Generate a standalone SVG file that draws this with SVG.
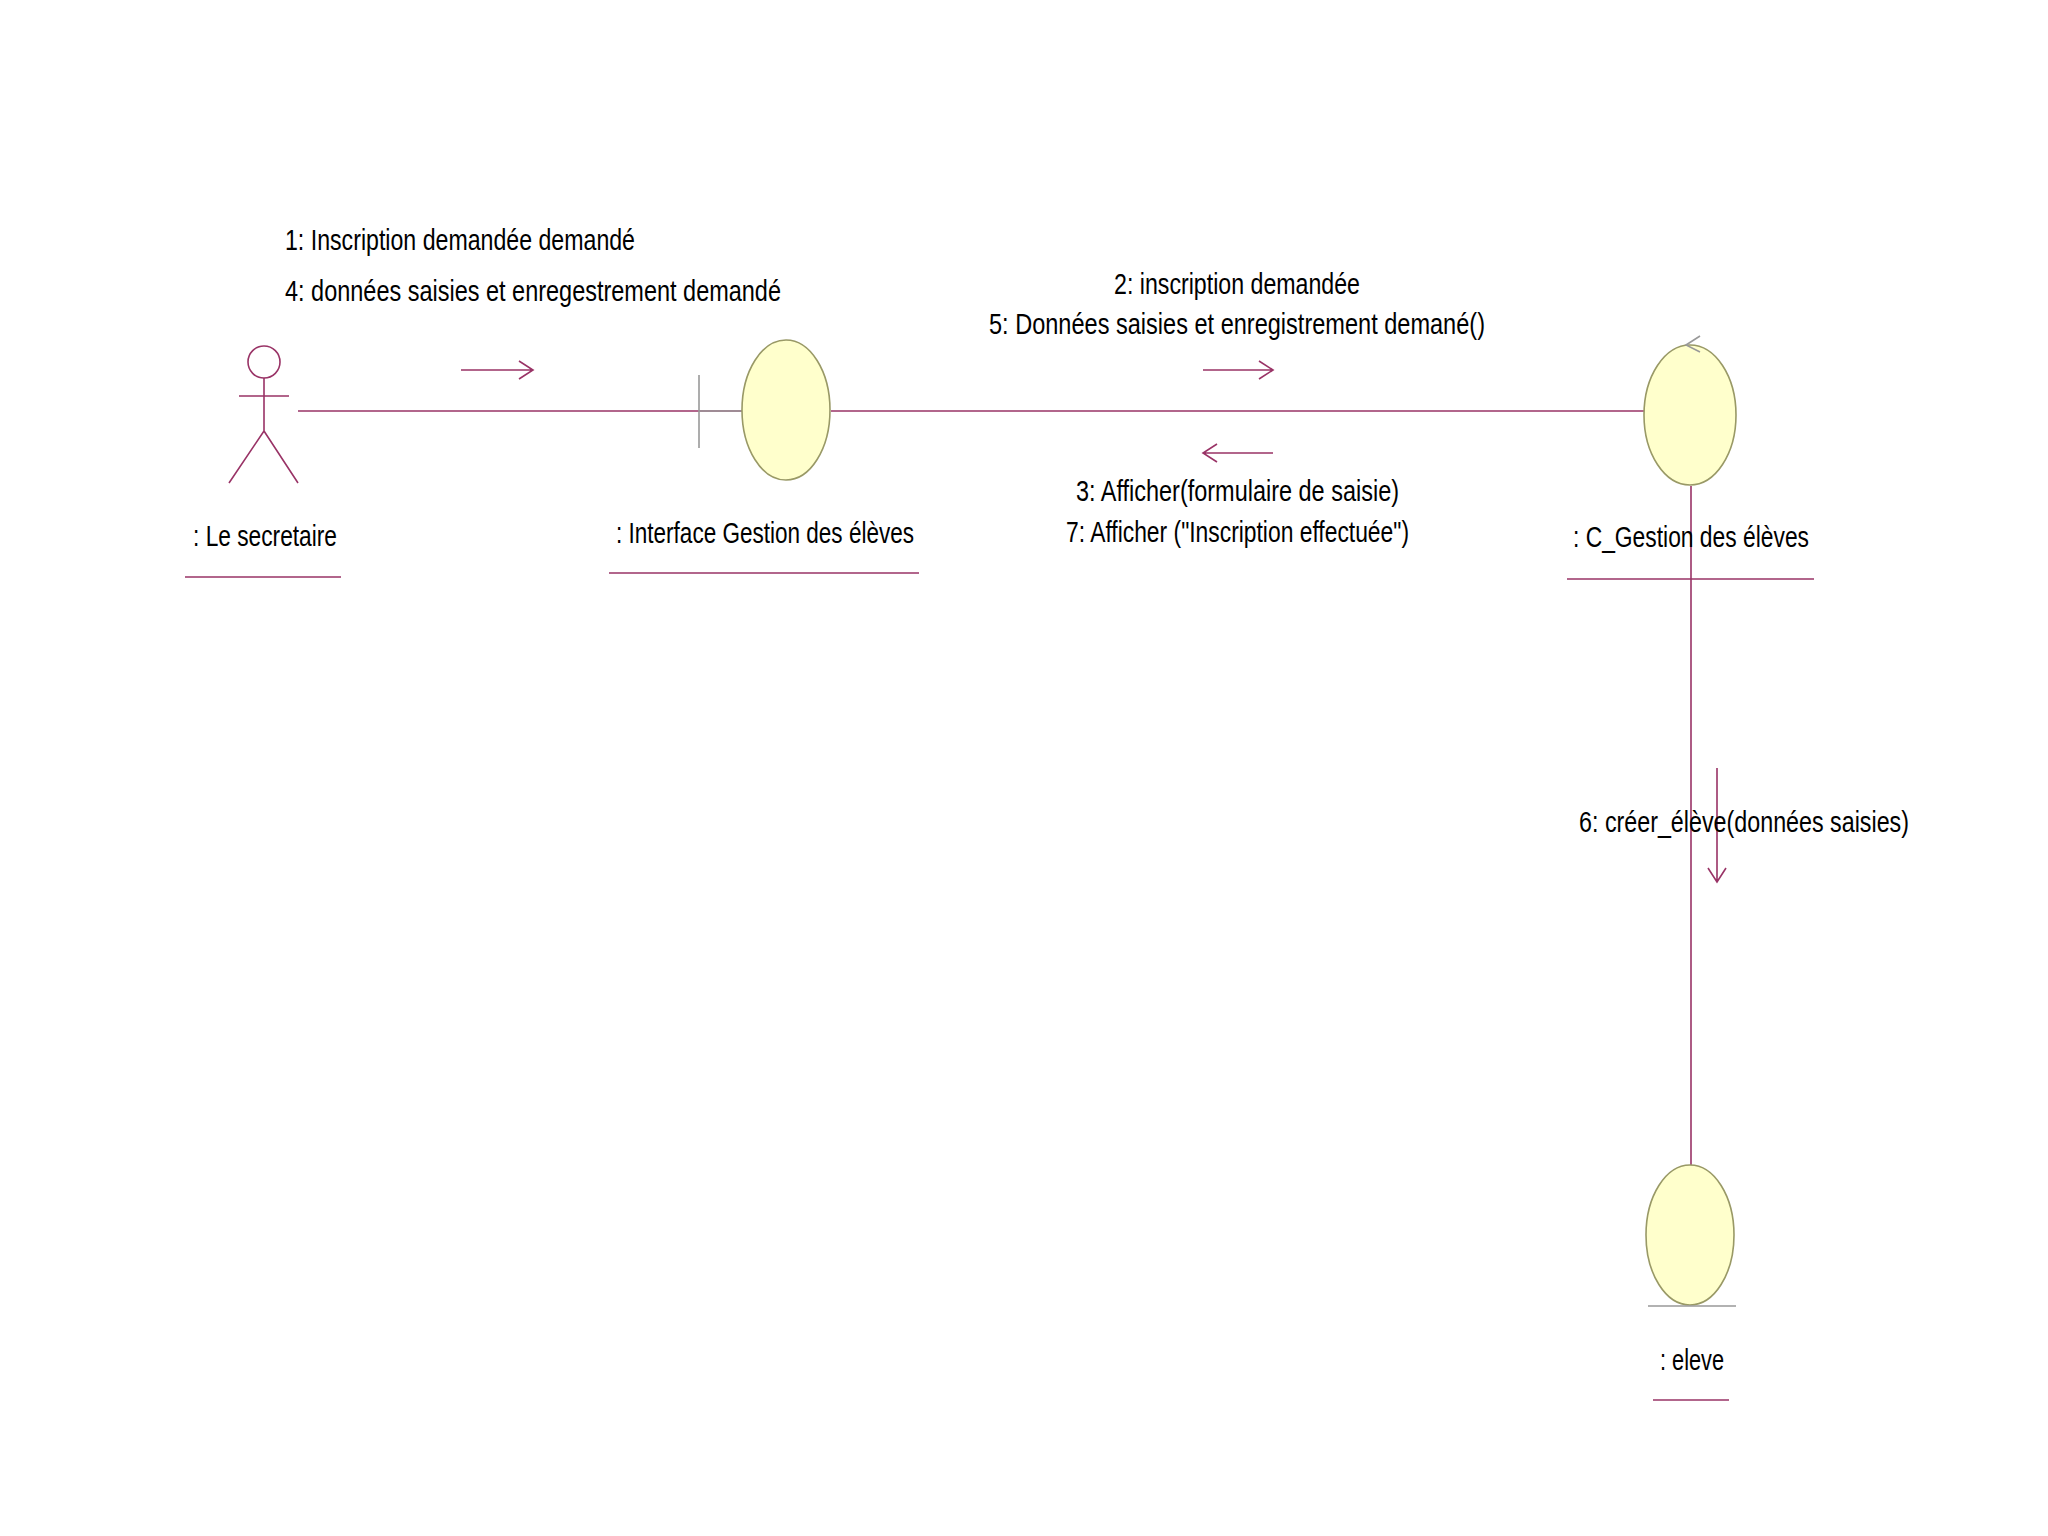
<svg xmlns="http://www.w3.org/2000/svg" width="2048" height="1536" viewBox="0 0 2048 1536">
<defs><style>
.l{stroke:#993366;stroke-width:1.6;fill:none}
.e{fill:#ffffcc;stroke:#999966;stroke-width:1.6}
.t{font-family:"Liberation Sans Narrow","Liberation Sans",sans-serif;font-size:29px;fill:#000}
.g{stroke:#999999;stroke-width:1.6;fill:none}
</style></defs>
<rect width="2048" height="1536" fill="#fff"/>
<g id="connectors">
<line class="l" x1="298" y1="411" x2="742" y2="411"/>
<line class="l" x1="831" y1="411" x2="1645" y2="411"/>
<line class="l" x1="1691" y1="486" x2="1691" y2="1166"/>
<path class="l" d="M461 370H533M519 361L533 370L519 379"/>
<path class="l" d="M1203 370H1273M1259 361L1273 370L1259 379"/>
<path class="l" d="M1273 453H1203M1217 444L1203 453L1217 462"/>
<path class="l" d="M1717 768V882M1708 868L1717 882L1726 868"/>
<text class="t" x="285" y="250" textLength="350" lengthAdjust="spacingAndGlyphs">1: Inscription demandée demandé</text>
<text class="t" x="285" y="301" textLength="496" lengthAdjust="spacingAndGlyphs">4:  données saisies et enregestrement demandé</text>
<text class="t" x="1114" y="294" textLength="246" lengthAdjust="spacingAndGlyphs">2: inscription demandée</text>
<text class="t" x="989" y="334" textLength="496" lengthAdjust="spacingAndGlyphs">5:  Données saisies et enregistrement demané()</text>
<text class="t" x="1076" y="501" textLength="323" lengthAdjust="spacingAndGlyphs">3:  Afficher(formulaire de saisie)</text>
<text class="t" x="1066" y="542" textLength="343" lengthAdjust="spacingAndGlyphs">7:  Afficher ("Inscription effectuée")</text>
<text class="t" x="1579" y="832" textLength="330" lengthAdjust="spacingAndGlyphs">6: créer_élève(données saisies)</text>
</g>
<g id="actor">
<circle class="l" cx="264" cy="362" r="16"/>
<path class="l" d="M264 378V431M239 396H289M264 431L229 483M264 431L298 483"/>
<text class="t" x="193" y="546" textLength="144" lengthAdjust="spacingAndGlyphs">: Le secretaire</text>
<line class="l" x1="185" y1="577" x2="341" y2="577"/>
</g>
<g id="interface">
<line class="g" x1="699" y1="375" x2="699" y2="448"/>
<line class="g" x1="699" y1="411" x2="742" y2="411"/>
<ellipse class="e" cx="786" cy="410" rx="44" ry="70"/>
<text class="t" x="616" y="543" textLength="298" lengthAdjust="spacingAndGlyphs">: Interface Gestion des élèves</text>
<line class="l" x1="609" y1="573" x2="919" y2="573"/>
</g>
<g id="controle">
<ellipse class="e" cx="1690" cy="415" rx="46" ry="70"/>
<path class="g" d="M1700 336L1686 345L1700 352"/>
<text class="t" x="1573" y="547" textLength="236" lengthAdjust="spacingAndGlyphs">: C_Gestion des élèves</text>
<line class="l" x1="1567" y1="579" x2="1814" y2="579"/>
</g>
<g id="eleve">
<ellipse class="e" cx="1690" cy="1235" rx="44" ry="70"/>
<line class="g" x1="1648" y1="1306" x2="1736" y2="1306"/>
<text class="t" x="1660" y="1370" textLength="64" lengthAdjust="spacingAndGlyphs">: eleve</text>
<line class="l" x1="1653" y1="1400" x2="1729" y2="1400"/>
</g>
</svg>
